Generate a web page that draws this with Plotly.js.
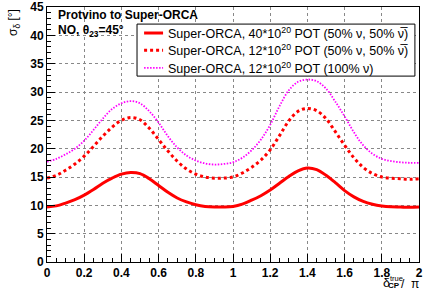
<!DOCTYPE html>
<html>
<head>
<meta charset="utf-8">
<script src="https://cdn.plot.ly/plotly-3.0.1.min.js"></script>
<style>
html,body{margin:0;padding:0;background:#fff;}
#chart{width:432px;height:293px;}
</style>
</head>
<body>
<div id="chart"></div>
<script>
const deltaCP = [0,0.05,0.1,0.15,0.2,0.25,0.3,0.35,0.4,0.45,0.5,0.55,0.6,0.65,0.7,0.75,0.8,0.85,0.9,0.95,1.0,
  1.05,1.1,1.15,1.2,1.25,1.3,1.35,1.4,1.45,1.5,1.55,1.6,1.65,1.7,1.75,1.8,1.85,1.9,1.95,2.0];
const sigma40 = [9.7,9.9,10.4,11.0,11.8,12.8,13.9,14.8,15.5,15.8,15.6,14.7,13.5,12.3,11.3,10.6,10.1,9.8,9.7,9.7,9.8,
  10.2,10.9,11.7,12.7,13.9,15.1,16.1,16.6,16.3,15.3,14.0,12.6,11.5,10.7,10.2,9.9,9.75,9.7,9.65,9.7];
const sigma12 = [14.8,15.3,16.2,17.3,18.7,20.4,22.2,23.8,25.0,25.5,25.1,23.6,21.6,19.6,17.8,16.4,15.5,15.0,14.8,14.8,15.0,
  15.7,16.7,18.0,19.8,22.3,24.9,26.6,27.1,26.7,25.3,23.0,20.6,18.4,16.7,15.6,15.0,14.8,14.7,14.6,14.7];
const sigma12nu = [17.7,18.2,19.0,20.0,21.4,23.3,25.3,27.0,28.0,28.4,28.0,26.6,24.6,22.2,20.2,18.8,17.9,17.4,17.2,17.3,17.6,
  18.4,19.7,21.6,24.2,27.5,30.3,31.8,32.2,31.9,30.6,28.3,25.7,22.9,20.6,19.1,18.2,17.8,17.6,17.5,17.5];
const seriesNames = [
  "Super-ORCA, 40*10<sup>20</sup> POT (50% ν, 50% ν\u0305)",
  "Super-ORCA, 12*10<sup>20</sup> POT (50% ν, 50% ν\u0305)",
  "Super-ORCA, 12*10<sup>20</sup> POT (100% ν)"
];
const xTicks = [0,0.2,0.4,0.6,0.8,1,1.2,1.4,1.6,1.8,2];
const yTicks = [0,5,10,15,20,25,30,35,40,45];

const FONT = "Liberation Sans, Arial, Helvetica, sans-serif";

const lineStyles = [
  {color: '#ff0000', width: 3},
  {color: '#ff0000', width: 3, dash: '3px,3px'},
  {color: '#ff00ff', width: 1.8, dash: '1.5px,1.5px'}
];
const seriesValues = [sigma40, sigma12, sigma12nu];

const traces = seriesValues.map((vals, i) => ({
  x: deltaCP, y: vals, name: seriesNames[i], mode: 'lines',
  line: Object.assign({shape: 'spline'}, lineStyles[i]), showlegend: false
}));

const axisCommon = {
  showline: true, linecolor: '#000', linewidth: 1, mirror: true,
  ticks: 'inside', tickcolor: '#000', ticklen: 8, tickwidth: 1,
  showgrid: true, gridcolor: '#888', griddash: 'dot', gridwidth: 1,
  zeroline: false,
  tickfont: {family: FONT, size: 12, color: '#000', weight: 'bold'}
};

// manual legend (paper coordinates)
const legBox = {x0: 0.242, x1: 0.989, y0: 0.729, y1: 0.933};
const legRows = [0.898, 0.830, 0.761];
const shapes = [
  {type: 'rect', xref: 'paper', yref: 'paper', x0: legBox.x0, x1: legBox.x1, y0: legBox.y0, y1: legBox.y1,
   fillcolor: '#fff', line: {color: '#000', width: 1}, layer: 'above'}
];
legRows.forEach((yy, i) => {
  shapes.push({type: 'line', xref: 'paper', yref: 'paper', x0: 0.261, x1: 0.312, y0: yy, y1: yy,
    line: Object.assign({}, lineStyles[i]), layer: 'above'});
});
const legAnn = legRows.map((yy, i) => ({
  xref: 'paper', yref: 'paper', x: 0.320, y: yy, xanchor: 'left', yanchor: 'middle', showarrow: false,
  text: seriesNames[i], font: {family: FONT, size: 12.5, color: '#000'}
}));

const titleAnn = (x, y, xa, text, size) => ({
  xref: 'paper', yref: 'paper', x: x, y: y, xanchor: xa, yanchor: 'middle', showarrow: false,
  borderpad: 0, text: text, font: {family: FONT, size: size}
});

const layout = {
  width: 432, height: 293,
  margin: {l: 47, r: 13, t: 7, b: 31},
  paper_bgcolor: '#fff', plot_bgcolor: '#fff',
  font: {family: FONT, color: '#000'},
  showlegend: false,
  xaxis: Object.assign({}, axisCommon, {
    range: [0, 2], tickvals: xTicks, ticktext: xTicks.map(String),
    minor: {ticks: 'inside', dtick: 0.05, ticklen: 4, tickcolor: '#000', showgrid: false}
  }),
  yaxis: Object.assign({}, axisCommon, {
    range: [0, 45], tickvals: yTicks, ticktext: yTicks.map(String),
    minor: {ticks: 'inside', dtick: 1, ticklen: 4, tickcolor: '#000', showgrid: false}
  }),
  shapes: shapes,
  annotations: legAnn.concat([
    {xref: 'paper', yref: 'paper', x: 0.025, y: 0.967, xanchor: 'left', yanchor: 'middle', showarrow: false,
     text: '<b>Protvino to Super-ORCA</b>', font: {family: FONT, size: 12}},
    {xref: 'paper', yref: 'paper', x: 0.025, y: 0.906, xanchor: 'left', yanchor: 'middle', showarrow: false,
     text: '<b>NO, θ<sub>23</sub>=45°</b>', font: {family: FONT, size: 12}},
    {xref: 'paper', yref: 'paper', x: -0.09, y: 1.0, xanchor: 'center', yanchor: 'top', showarrow: false,
     textangle: -90, text: 'σ<sub>δ</sub> [°]', font: {family: FONT, size: 12}},
    titleAnn(0.9126, -0.082, 'center', 'δ', 12.5),
    titleAnn(0.940, -0.064, 'center', 'true', 7.5),
    titleAnn(0.934, -0.094, 'center', '<b>CP</b>', 8),
    titleAnn(1.003, -0.088, 'right', '/  π', 12)
  ])
};

Plotly.newPlot('chart', traces, layout, {displayModeBar: false, staticPlot: true});
</script>
</body>
</html>
